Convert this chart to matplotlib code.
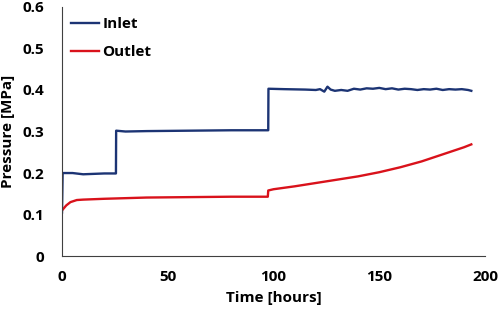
import matplotlib
matplotlib.use("Agg")
import matplotlib.pyplot as plt

# Inlet pressure (MPa) vs time (hours)
inlet_t = [0, 0.3, 5, 10, 15, 20, 25.5, 25.6, 30, 40, 60, 80, 97.5, 97.6, 105, 115, 120, 122,
           124, 125.5, 127, 129, 132, 135, 138, 141, 144, 147, 150, 153, 156, 159, 162, 165,
           168, 171, 174, 177, 180, 183, 186, 189, 192, 193.5]
inlet_p = [0.105, 0.200, 0.200, 0.197, 0.198, 0.199, 0.199, 0.302, 0.300, 0.301, 0.302, 0.303,
           0.303, 0.403, 0.402, 0.401, 0.400, 0.402, 0.396, 0.408, 0.401, 0.398, 0.400, 0.398,
           0.403, 0.401, 0.404, 0.403, 0.405, 0.402, 0.404, 0.401, 0.403, 0.402, 0.400, 0.402,
           0.401, 0.403, 0.400, 0.402, 0.401, 0.402, 0.400, 0.398]

# Outlet pressure
outlet_t = [0, 2, 4, 7, 10, 20, 40, 60, 80, 97.3, 97.5, 100, 110, 120, 130, 140, 150, 160,
            170, 180, 190, 193.5]
outlet_p = [0.110, 0.122, 0.130, 0.135, 0.136, 0.138, 0.141, 0.142, 0.143, 0.143, 0.158, 0.161,
            0.168, 0.176, 0.184, 0.192, 0.202, 0.214, 0.228, 0.245, 0.262, 0.269]

plt.rcParams['font.family'] = ['Open Sans', 'DejaVu Sans']
plt.rcParams['font.weight'] = 'bold'
fs = 11

fig = plt.figure(figsize=(4.98, 3.15), dpi=100)
ax = fig.add_axes([0.1245, 0.187, 0.8495, 0.791])

ax.plot(inlet_t, inlet_p, color='#1c3474', lw=1.7, label='Inlet')
ax.plot(outlet_t, outlet_p, color='#d9121b', lw=1.7, label='Outlet')

ax.set_xlim(0, 200)
ax.set_ylim(0, 0.6)
ax.set_xticks([0, 50, 100, 150, 200])
ax.set_yticks([0, 0.1, 0.2, 0.3, 0.4, 0.5, 0.6])
ax.set_yticklabels(['0', '0.1', '0.2', '0.3', '0.4', '0.5', '0.6'])
ax.tick_params(axis='both', length=0, labelsize=fs)
ax.tick_params(axis='y', pad=13)
ax.tick_params(axis='x', pad=10)
for lbl in ax.get_xticklabels() + ax.get_yticklabels():
    lbl.set_fontweight('bold')

ax.spines['top'].set_visible(False)
ax.spines['right'].set_visible(False)
ax.spines['left'].set_color('#404040')
ax.spines['bottom'].set_color('#404040')

ax.set_xlabel('Time [hours]', fontsize=fs, fontweight='bold', labelpad=5)
ax.set_ylabel('Pressure [MPa]', fontsize=fs, fontweight='bold', labelpad=5)

leg = ax.legend(loc='upper left', frameon=False, fontsize=fs, handlelength=1.85,
                handletextpad=0.2, labelspacing=0.9, borderaxespad=0.2,
                bbox_to_anchor=(0.0, 0.995))
for t in leg.get_texts():
    t.set_fontweight('bold')

fig.savefig('out.png', dpi=100)
